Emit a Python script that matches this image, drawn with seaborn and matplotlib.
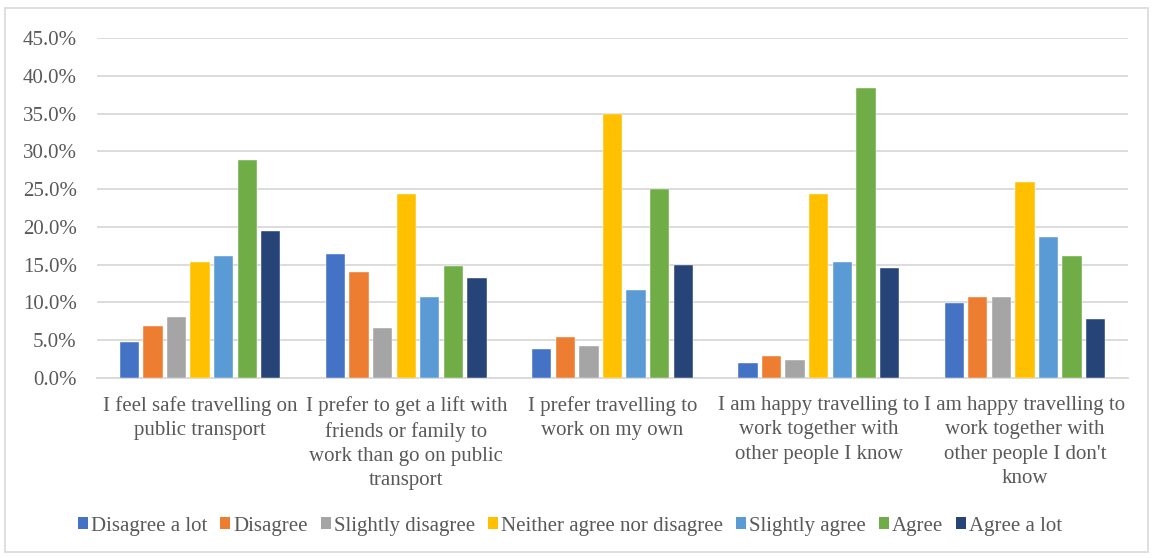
import matplotlib
matplotlib.use("Agg")
import matplotlib.pyplot as plt
from matplotlib.patches import Rectangle, Patch
from matplotlib.ticker import FuncFormatter, MultipleLocator
import seaborn as sns
import pandas as pd

statements = [
    "I feel safe travelling on\npublic transport",
    "I prefer to get a lift with\nfriends or family to\nwork than go on public\ntransport",
    "I prefer travelling to\nwork on my own",
    "I am happy travelling to\nwork together with\nother people I know",
    "I am happy travelling to\nwork together with\nother people I don't\nknow",
]
responses = [
    "Disagree a lot", "Disagree", "Slightly disagree",
    "Neither agree nor disagree", "Slightly agree", "Agree", "Agree a lot",
]
disagree_a_lot = [4.8, 16.4, 3.8, 2.0, 9.9]
disagree = [6.9, 14.0, 5.4, 2.9, 10.7]
slightly_disagree = [8.1, 6.6, 4.2, 2.4, 10.7]
neither = [15.4, 24.3, 35.0, 24.4, 26.0]
slightly_agree = [16.2, 10.7, 11.6, 15.3, 18.6]
agree = [28.9, 14.8, 25.0, 38.4, 16.1]
agree_a_lot = [19.5, 13.2, 15.0, 14.5, 7.8]

colors = ["#4472C4", "#ED7D31", "#A5A5A5", "#FFC000", "#5B9BD5", "#70AD47", "#264478"]

series = [disagree_a_lot, disagree, slightly_disagree, neither,
          slightly_agree, agree, agree_a_lot]
rows = []
for resp, vals in zip(responses, series):
    for stmt, v in zip(statements, vals):
        rows.append({"statement": stmt, "response": resp, "pct": v})
df = pd.DataFrame(rows)

sns.set_theme(style="white")
plt.rcParams["font.family"] = ["Liberation Serif", "DejaVu Serif"]
text_color = "#595959"
grid_color = "#d9d9d9"
font_size = 15

fig = plt.figure(figsize=(11.54, 5.58), dpi=100)
ax = fig.add_axes([0.084, 0.3226, 0.8935, 0.6094])

sns.barplot(data=df, x="statement", y="pct", hue="response",
            order=statements, hue_order=responses, palette=colors,
            saturation=1, width=0.8, gap=0.18, edgecolor="white",
            linewidth=0.3, legend=False, ax=ax, zorder=3)

ax.set_ylim(0, 45)
ax.set_xlim(-0.5, len(statements) - 0.5)
ax.yaxis.set_major_locator(MultipleLocator(5))
ax.yaxis.set_major_formatter(FuncFormatter(lambda v, p: f"{v:.1f}%"))
ax.grid(axis="y", color=grid_color, linewidth=1.3, zorder=0)
ax.set_axisbelow(True)
for side in ["left", "right", "top"]:
    ax.spines[side].set_visible(False)
ax.spines["bottom"].set_color(grid_color)
ax.spines["bottom"].set_linewidth(1.3)
ax.set_xlabel("")
ax.set_ylabel("")
ax.tick_params(axis="both", length=0, labelsize=font_size, colors=text_color)
ax.tick_params(axis="y", pad=14.5)
ax.tick_params(axis="x", pad=13)
for lbl in ax.get_xticklabels():
    lbl.set_linespacing(1.38)
    lbl.set_color(text_color)

handles = [Patch(facecolor=c, edgecolor="none") for c in colors]
fig.legend(handles, responses, loc="center", bbox_to_anchor=(0.494, 0.057),
           ncol=7, frameon=False, fontsize=font_size, labelcolor=text_color,
           handlelength=0.5, handleheight=0.5, handletextpad=0.15,
           columnspacing=0.6)

fig.patches.append(Rectangle((5 / 1154, 6 / 558), 1143 / 1154, 544 / 558,
                             transform=fig.transFigure, fill=False,
                             edgecolor=grid_color, linewidth=1.2))

fig.savefig("out.png", dpi=100)
